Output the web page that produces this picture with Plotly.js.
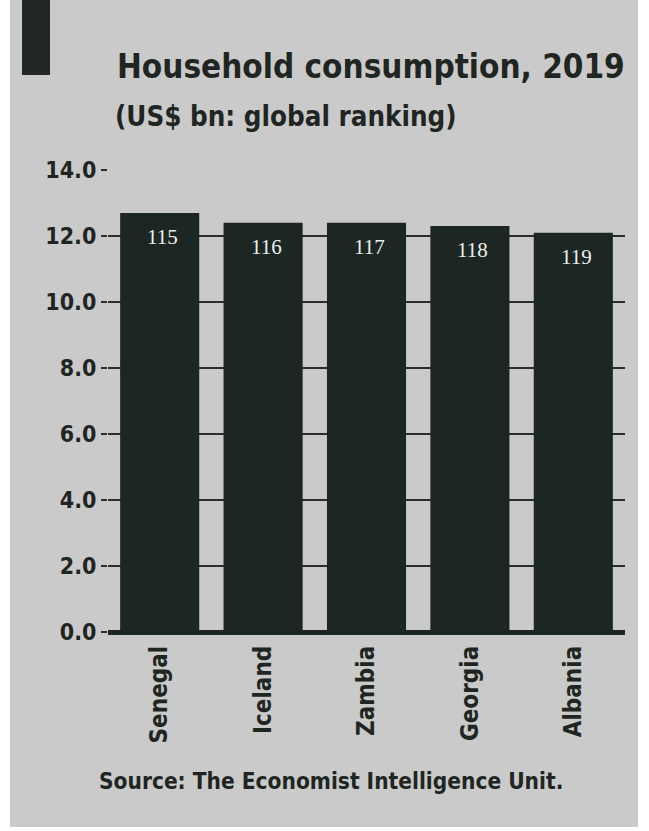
<!DOCTYPE html>
<html>
<head>
<meta charset="utf-8">
<script src="https://cdn.plot.ly/plotly-3.0.1.min.js"></script>
<style>html,body{margin:0;padding:0;background:#fff;}#chart{width:649px;height:831px;}</style>
</head>
<body>
<div id="chart"></div>
<script>
const countries = ["Senegal", "Iceland", "Zambia", "Georgia", "Albania"];
const consumption = [12.7, 12.4, 12.4, 12.3, 12.1];
const ranking = ["115", "116", "117", "118", "119"];
const yTicks = [0, 2, 4, 6, 8, 10, 12, 14];

const ink = "#1f2622";
const barColor = "#1c2622";
const font = "'DejaVu Sans Condensed', 'Liberation Sans Narrow', sans-serif";

const trace = {
  type: "bar",
  x: countries,
  y: consumption,
  marker: {color: barColor, line: {width: 0}},
  hoverinfo: "none"
};

const rankLabels = countries.map((c, i) => ({
  x: c, y: consumption[i], xref: "x", yref: "y",
  text: ranking[i], showarrow: false,
  yanchor: "top", yshift: -10, xshift: 3,
  font: {family: "'Liberation Serif', serif", size: 21, color: "#eeeeee"}
}));

const layout = {
  width: 649, height: 831,
  margin: {l: 108, r: 24, t: 170, b: 199},
  paper_bgcolor: "#cacaca",
  plot_bgcolor: "rgba(0,0,0,0)",
  bargap: 0.235,
  showlegend: false,
  font: {family: font, color: ink},
  xaxis: {
    type: "category",
    tickangle: -90,
    tickfont: {family: font, size: 24, color: ink, weight: "bold"},
    showgrid: false,
    showline: false,
    ticks: "",
    ticklabelstandoff: 8
  },
  yaxis: {
    range: [0, 14],
    tickvals: yTicks,
    tickformat: ".1f",
    tickfont: {family: font, size: 23, color: ink, weight: "bold"},
    showgrid: true,
    gridcolor: "#2a2f2c",
    gridwidth: 2,
    zeroline: true,
    zerolinecolor: ink,
    zerolinewidth: 5,
    ticks: "outside",
    ticklen: 6,
    tickwidth: 2,
    tickcolor: "#2a2f2c",
    showline: false,
    fixedrange: true
  },
  shapes: [
    {type: "rect", xref: "paper", yref: "paper", x0: -0.25, x1: -0.1896, y0: -0.45, y1: 1.4, fillcolor: "#ffffff", line: {width: 0}, layer: "below"},
    {type: "rect", xref: "paper", yref: "paper", x0: 1.0252, x1: 1.08, y0: -0.45, y1: 1.4, fillcolor: "#ffffff", line: {width: 0}, layer: "below"},
    {type: "rect", xref: "paper", yref: "paper", x0: -0.25, x1: 1.08, y0: -0.45, y1: -0.4221, fillcolor: "#ffffff", line: {width: 0}, layer: "below"},
    {type: "rect", xref: "paper", yref: "paper", x0: -0.1663, x1: -0.1122, y0: 1.2056, y1: 1.4, fillcolor: "#222724", line: {width: 0}, layer: "below"}
  ],
  annotations: rankLabels.concat([
    {xref: "paper", yref: "paper", x: 0.0135, y: 1.224, xanchor: "left", yanchor: "middle", showarrow: false,
     text: "Household consumption, 2019", font: {family: font, size: 33, color: ink, weight: "bold"}},
    {xref: "paper", yref: "paper", x: 0.0097, y: 1.117, xanchor: "left", yanchor: "middle", showarrow: false,
     text: "(US$ bn: global ranking)", font: {family: font, size: 27.5, color: ink, weight: "bold"}},
    {xref: "paper", yref: "paper", x: 0.431, y: -0.322, xanchor: "center", yanchor: "middle", showarrow: false,
     text: "Source: The Economist Intelligence Unit.", font: {family: font, size: 22.5, color: ink, weight: "bold"}}
  ])
};

Plotly.newPlot("chart", [trace], layout, {staticPlot: true, displayModeBar: false});
</script>
</body>
</html>
